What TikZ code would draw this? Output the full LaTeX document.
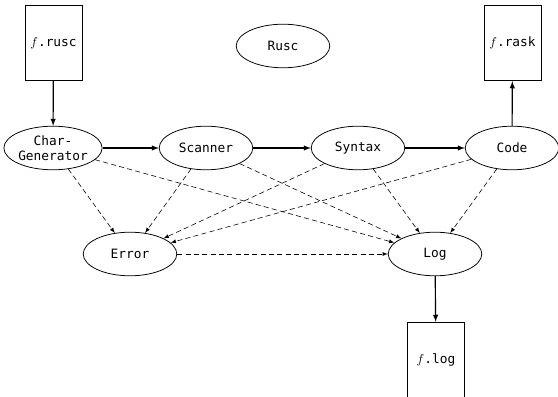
\documentclass[tikz,border=0pt]{standalone}
\usepackage{fontspec}
\setmonofont{DejaVu Sans Mono}
\usetikzlibrary{arrows}
\usetikzlibrary{shapes.geometric}

\begin{document}
\begin{tikzpicture}[x=0.78pt,y=-0.78pt,
        phase/.style={draw,ellipse,line width=0.6pt,minimum width=73pt,minimum height=34pt,inner sep=0pt,align=center,font=\ttfamily},
        filebox/.style={draw,rectangle,line width=0.6pt,minimum width=44.5pt,minimum height=59pt,inner sep=0pt,font=\ttfamily},
        flow/.style={-latex,line width=0.9pt},
        aux/.style={-latex,line width=0.45pt,dash pattern=on 4pt off 2.5pt}]
        \useasboundingbox (0,0) rectangle (558,397);
        \node[filebox] (rusc) at (53.5,43) {$f$.rusc};
        \node[filebox] (rask) at (512.5,43) {$f$.rask};
        \node[filebox] (logf) at (436,360) {$f$.log};
        \node[phase] (top) at (283,46) {Rusc};
        \node[phase] (chg) at (53,148) {Char-\\Generator};
        \node[phase] (scan) at (206,148) {Scanner};
        \node[phase] (syn) at (358,148) {Syntax};
        \node[phase] (code) at (512,148) {Code};
        \node[phase] (err) at (130,254) {Error};
        \node[phase] (log) at (435,254) {Log};
        % main chain
        \draw[flow] (rusc) -- (chg);
        \draw[flow] (chg) -- (scan);
        \draw[flow] (scan) -- (syn);
        \draw[flow] (syn) -- (code);
        \draw[flow] (code) -- (rask);
        \draw[flow] (log) -- (logf);
        % reports
        \foreach \p in {chg,scan,syn,code}{
            \draw[aux] (\p) -- (err);
            \draw[aux] (\p) -- (log);
        }
        \draw[aux] (err) -- (log);
    \end{tikzpicture}
\end{document}
